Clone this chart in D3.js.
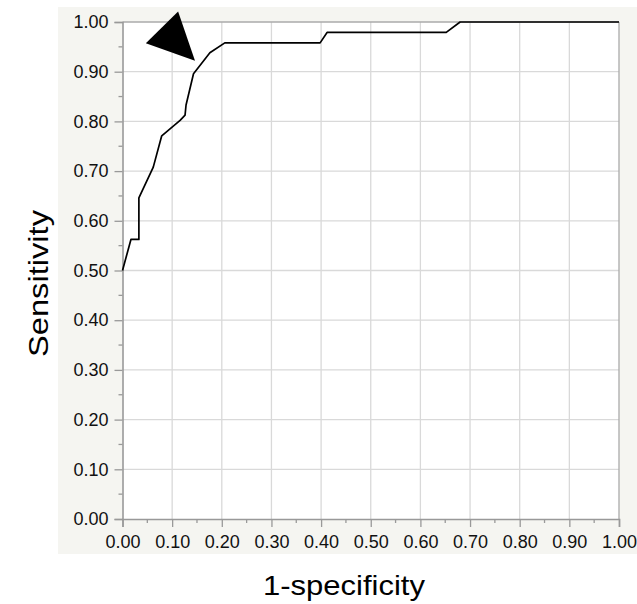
<!DOCTYPE html>
<html>
<head>
<meta charset="utf-8">
<script src="https://cdn.jsdelivr.net/npm/d3@7"></script>
<style>
  html, body { margin: 0; padding: 0; background: #ffffff; }
  svg { display: block; }
</style>
</head>
<body>
<svg id="chart" width="637" height="604"></svg>
<script>
// ROC curve points (1-specificity, sensitivity)
const fpr = [0, 0.017, 0.033, 0.033, 0.062, 0.079, 0.116, 0.126, 0.128, 0.143, 0.176, 0.206, 0.398, 0.412, 0.652, 0.680, 1.0];
const tpr = [0.50, 0.5625, 0.5625, 0.646, 0.708, 0.771, 0.802, 0.8125, 0.833, 0.896, 0.938, 0.958, 0.958, 0.979, 0.979, 1.0, 1.0];
// Annotation arrow (triangle) vertices in data coordinates
const arrowX = [0.112, 0.047, 0.146];
const arrowY = [1.021, 0.957, 0.922];
const majorTicks = [0, 0.1, 0.2, 0.3, 0.4, 0.5, 0.6, 0.7, 0.8, 0.9, 1.0];
const minorTicks = [0.05, 0.15, 0.25, 0.35, 0.45, 0.55, 0.65, 0.75, 0.85, 0.95];
const xTitle = "1-specificity";
const yTitle = "Sensitivity";

const svg = d3.select("#chart");
const L = 122.5, R = 619, T = 22, B = 519;
const x = d3.scaleLinear().domain([0, 1]).range([L, R]);
const y = d3.scaleLinear().domain([0, 1]).range([B, T]);
const font = "'Liberation Sans', Arial, Helvetica, sans-serif";

// panel background
svg.append("rect").attr("x", 58).attr("y", 7).attr("width", 637 - 58).attr("height", 554 - 7)
  .attr("fill", "#f5f5f1");
// plot area
svg.append("rect").attr("x", L).attr("y", T).attr("width", R - L).attr("height", B - T)
  .attr("fill", "#ffffff");

// gridlines
const grid = svg.append("g").attr("stroke", "#d9d9d9").attr("stroke-width", 1.3);
grid.selectAll("line.v").data(majorTicks.slice(1, -1)).join("line")
  .attr("x1", d => x(d)).attr("x2", d => x(d)).attr("y1", T).attr("y2", B);
grid.selectAll("line.h").data(majorTicks.slice(1, -1)).join("line")
  .attr("class", "h")
  .attr("y1", d => y(d)).attr("y2", d => y(d)).attr("x1", L).attr("x2", R);

// frame top/right
svg.append("line").attr("x1", L).attr("x2", R).attr("y1", T).attr("y2", T).attr("stroke", "#aaaaaa").attr("stroke-width", 1.3);
svg.append("line").attr("x1", R).attr("x2", R).attr("y1", T).attr("y2", B).attr("stroke", "#aaaaaa").attr("stroke-width", 1.3);

// axes
const xAxis = d3.axisBottom(x).tickValues(majorTicks).tickFormat(d3.format(".2f")).tickSize(8).tickPadding(8);
const yAxis = d3.axisLeft(y).tickValues(majorTicks).tickFormat(d3.format(".2f")).tickSize(8).tickPadding(6);
const gx = svg.append("g").attr("transform", `translate(0,${B})`).call(xAxis);
const gy = svg.append("g").attr("transform", `translate(${L},0)`).call(yAxis);
[gx, gy].forEach(g => {
  g.select(".domain").attr("stroke", "#999999").attr("stroke-width", 1.6);
  g.selectAll(".tick line").attr("stroke", "#999999").attr("stroke-width", 1.3);
  g.selectAll(".tick text").attr("fill", "#111111").style("font-family", font).style("font-size", "18px");
});
// minor ticks
svg.append("g").selectAll("line").data(minorTicks).join("line")
  .attr("x1", d => x(d)).attr("x2", d => x(d)).attr("y1", B).attr("y2", B + 4)
  .attr("stroke", "#999999").attr("stroke-width", 1.3);
svg.append("g").selectAll("line").data(minorTicks).join("line")
  .attr("y1", d => y(d)).attr("y2", d => y(d)).attr("x1", L).attr("x2", L - 4)
  .attr("stroke", "#999999").attr("stroke-width", 1.3);

// ROC curve
const pts = fpr.map((v, i) => [v, tpr[i]]);
svg.append("path").datum(pts)
  .attr("d", d3.line().x(d => x(d[0])).y(d => y(d[1])))
  .attr("fill", "none").attr("stroke", "#000000").attr("stroke-width", 1.7)
  .attr("stroke-linejoin", "round");

// arrow triangle
const tri = arrowX.map((v, i) => [x(v), y(arrowY[i])]);
svg.append("path").attr("d", "M" + tri.map(p => p.join(",")).join("L") + "Z").attr("fill", "#000000");

// titles
svg.append("text").attr("x", 344).attr("y", 595).attr("text-anchor", "middle")
  .style("font-family", font).style("font-size", "28px").attr("fill", "#000")
  .attr("textLength", 162).attr("lengthAdjust", "spacingAndGlyphs").text(xTitle);
svg.append("text").attr("transform", "translate(47.5,283.5) rotate(-90)").attr("text-anchor", "middle")
  .style("font-family", font).style("font-size", "28px").attr("fill", "#000")
  .attr("textLength", 147).attr("lengthAdjust", "spacingAndGlyphs").text(yTitle);
</script>
</body>
</html>
